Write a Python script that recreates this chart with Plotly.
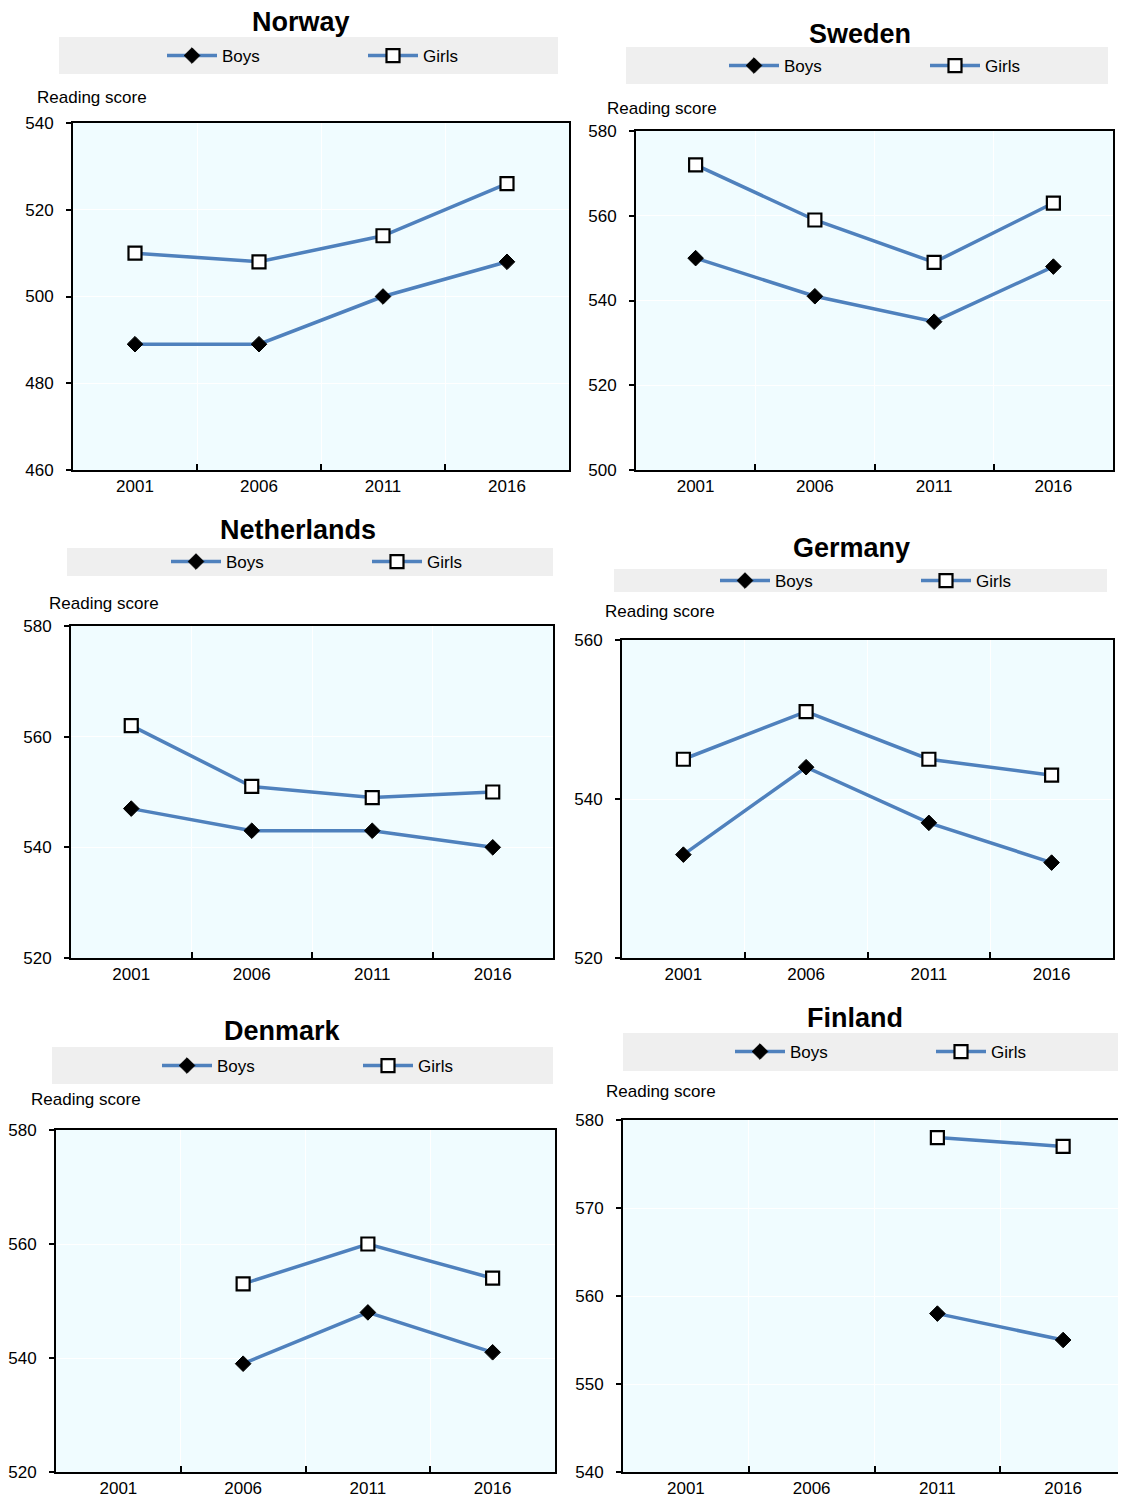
import plotly.graph_objects as go

# ---------------- data ----------------
years = ["2001", "2006", "2011", "2016"]
countries = ["Norway", "Sweden", "Netherlands", "Germany", "Denmark", "Finland"]

boys_norway = [489, 489, 500, 508]
girls_norway = [510, 508, 514, 526]
boys_sweden = [550, 541, 535, 548]
girls_sweden = [572, 559, 549, 563]
boys_netherlands = [547, 543, 543, 540]
girls_netherlands = [562, 551, 549, 550]
boys_germany = [533, 544, 537, 532]
girls_germany = [545, 551, 545, 543]
boys_denmark = [None, 539, 548, 541]
girls_denmark = [None, 553, 560, 554]
boys_finland = [None, None, 558, 555]
girls_finland = [None, None, 578, 577]

boys = [boys_norway, boys_sweden, boys_netherlands, boys_germany, boys_denmark, boys_finland]
girls = [girls_norway, girls_sweden, girls_netherlands, girls_germany, girls_denmark, girls_finland]

y_ranges = [(460, 540, 20), (500, 580, 20), (520, 580, 20), (520, 560, 20), (520, 580, 20), (540, 580, 10)]

# ---------------- layout geometry (page pixels) ----------------
PAGE_W, PAGE_H = 1126, 1499
OFF = 8  # default page margin around the figure
W, H = PAGE_W - OFF, PAGE_H - OFF
# plot box: x0, x1, ytop, ybottom
plot_box = [(73, 569, 123, 470), (636, 1113, 131, 470),
            (71, 553, 626, 958), (622, 1113, 640, 958),
            (56, 555, 1130, 1472), (623, 1126, 1120, 1472)]
title_pos = [(301, 22), (860, 34), (298, 530), (851, 548), (282, 1031), (855, 1018)]
legend_box = [(59, 558, 37, 74), (626, 1108, 47, 84), (67, 553, 548, 576),
              (614, 1107, 569, 592), (52, 553, 1047, 1084), (623, 1126, 1033, 1071)]
legend_item = [(166, 56), (728, 66), (170, 562), (719, 581), (161, 1066), (734, 1052)]
ylabel_pos = [(38, 97), (608, 109), (50, 603), (606, 611), (32, 1099), (607, 1091)]

FONT = "Liberation Sans Narrow, Arial Narrow, Liberation Sans, Arial, sans-serif"
FS = 17
LINE = "#4F81BD"
BG = "#F0FCFF"


def fx(x):
    return min(max((x - OFF) / W, 0.0), 1.0)


def fy(y):
    return min(max(1 - (y - OFF) / H, 0.0), 1.0)


fig = go.Figure()
layout = dict(width=W, height=H, margin=dict(l=0, r=0, t=0, b=0, pad=0, autoexpand=False),
              paper_bgcolor="white", font=dict(family=FONT, size=FS, color="black"),
              shapes=[], annotations=[], showlegend=True)

for i in range(6):
    n = "" if i == 0 else str(i + 1)
    xa, ya = "x" + n, "y" + n
    lg = "legend" + n
    fig.add_trace(go.Scatter(x=years, y=boys[i], name="Boys", mode="lines+markers",
                             xaxis=xa, yaxis=ya, legend=lg, connectgaps=False,
                             line=dict(color=LINE, width=3.5),
                             marker=dict(symbol="diamond", size=12, color="black",
                                         line=dict(color="black", width=1))))
    fig.add_trace(go.Scatter(x=years, y=girls[i], name="Girls", mode="lines+markers",
                             xaxis=xa, yaxis=ya, legend=lg, connectgaps=False,
                             line=dict(color=LINE, width=3.5),
                             marker=dict(symbol="square", size=13, color="white",
                                         line=dict(color="black", width=2.2))))
    x0, x1, yt, yb = plot_box[i]
    lo, hi, dt = y_ranges[i]
    layout["xaxis" + n] = dict(domain=[fx(x0), fx(x1)], anchor=ya,
                               type="category", categoryorder="array", categoryarray=years,
                               range=[-0.5, 3.5], tickson="boundaries", ticks="inside",
                               ticklen=6, tickwidth=2, tickcolor="black",
                               showgrid=True, gridcolor="white", gridwidth=1,
                               showline=True, linecolor="black", linewidth=2, mirror=True,
                               tickfont=dict(size=FS), fixedrange=True, automargin=False)
    layout["yaxis" + n] = dict(domain=[fy(yb), fy(yt)], anchor=xa,
                               range=[lo, hi], dtick=dt, tick0=lo, ticks="outside",
                               ticklen=5, tickwidth=2, tickcolor="black",
                               ticklabelstandoff=9,
                               showgrid=True, gridcolor="white", gridwidth=1, zeroline=False,
                               showline=True, linecolor="black", linewidth=2, mirror=True,
                               tickfont=dict(size=FS), fixedrange=True, automargin=False)
    # legend gray box
    bx0, bx1, by0, by1 = legend_box[i]
    layout["shapes"].append(dict(type="rect", xref="paper", yref="paper",
                                 x0=fx(bx0), x1=fx(bx1), y0=fy(by1), y1=fy(by0),
                                 fillcolor="#EFEFEF", line=dict(width=0), layer="below"))
    lx, ly = legend_item[i]
    layout[lg] = dict(x=fx(lx - 4), y=fy(ly), xanchor="left", yanchor="middle",
                      orientation="h", bgcolor="rgba(0,0,0,0)", borderwidth=0,
                      font=dict(family=FONT, size=FS), entrywidth=136, itemwidth=50,
                      entrywidthmode="pixels", itemclick=False, itemdoubleclick=False)
    tx, ty = title_pos[i]
    layout["annotations"].append(dict(text="<b>" + countries[i] + "</b>", xref="paper", yref="paper",
                                      x=fx(tx), y=fy(ty), xanchor="center", yanchor="middle",
                                      showarrow=False, font=dict(family=FONT, size=27)))
    rx, ry = ylabel_pos[i]
    layout["annotations"].append(dict(text="Reading score", xref="paper", yref="paper",
                                      x=fx(rx - 3), y=fy(ry), xanchor="left", yanchor="middle",
                                      showarrow=False, font=dict(family=FONT, size=FS)))

layout["plot_bgcolor"] = BG
fig.update_layout(**layout)
fig.write_html("out.html")
